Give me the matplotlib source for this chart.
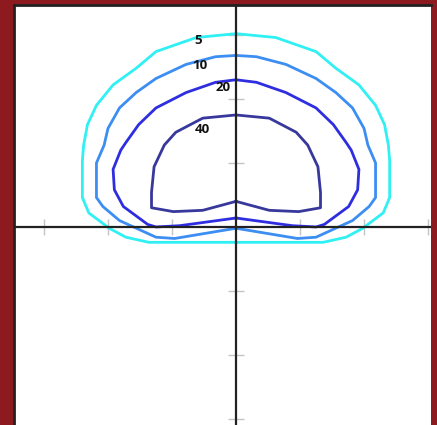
import matplotlib
matplotlib.use("Agg")
import matplotlib.pyplot as plt

# isocandela contours, right half (x, y in degrees), mirrored to the left
levels = [5, 10, 20, 40]
colors = ["#30f0f4", "#3c8ef2", "#2e2ee0", "#38389c"]

c5_x = [0, 3.1, 6.25, 7.8, 9.6, 10.9, 11.6, 11.9, 12.0, 12.0, 11.5, 9.9, 8.6, 6.8, 0]
c5_y = [15.1, 14.8, 13.7, 12.4, 11.1, 9.5, 8.0, 6.4, 5.2, 2.3, 1.1, -0.1, -0.8, -1.2, -1.2]

c10_x = [0, 1.6, 3.9, 6.25, 7.8, 9.1, 10.0, 10.3, 10.9, 10.9, 10.4, 9.1, 8.0, 6.25, 4.8, 0]
c10_y = [13.4, 13.3, 12.7, 11.6, 10.5, 9.3, 7.7, 6.4, 5.0, 2.3, 1.6, 0.5, 0.0, -0.8, -0.9, -0.1]

c20_x = [0, 1.6, 3.9, 6.25, 7.6, 8.6, 9.0, 9.6, 9.5, 8.8, 6.9, 6.25, 4.4, 0]
c20_y = [11.5, 11.3, 10.5, 9.3, 8.0, 6.6, 6.0, 4.5, 2.9, 1.6, 0.2, 0.0, 0.1, 0.7]

c40_x = [0, 2.6, 4.7, 5.6, 6.4, 6.6, 6.6, 4.9, 2.6, 0]
c40_y = [8.75, 8.5, 7.4, 6.4, 4.7, 2.7, 1.5, 1.2, 1.3, 2.0]

label_x = [-2.97, -2.8, -1.0, -2.6]
label_y = [14.6, 12.6, 10.9, 7.6]

ticks = [-15, -10, -5, 5, 10, 15]

fig = plt.figure(figsize=(4.37, 4.25), dpi=100)
fig.patch.set_facecolor("#8c1a1e")
ax = fig.add_axes([14 / 437, 0, 417 / 437, 420 / 425])
ax.set_facecolor("white")
ax.set_xlim(-17.34, 15.23)
ax.set_ylim(-15.47, 17.34)

for xs, ys, col in zip([c5_x, c10_x, c20_x, c40_x], [c5_y, c10_y, c20_y, c40_y], colors):
    full_x = [-v for v in xs[::-1]] + xs[1:]
    full_y = ys[::-1] + ys[1:]
    ax.plot(full_x, full_y, color=col, lw=2.0, zorder=2, solid_joinstyle="round")

# tick marks on the crossing axes
ax.plot(ticks, [0] * len(ticks), ls="none", marker="|", ms=11, mew=1.0, color="#c4c4c4", zorder=1)
ax.plot([0] * len(ticks), ticks, ls="none", marker="_", ms=11, mew=1.0, color="#c4c4c4", zorder=1)

ax.axhline(0, color="#222222", lw=1.6, zorder=3)
ax.axvline(0, color="#222222", lw=1.6, zorder=3)

for lx, ly, lv in zip(label_x, label_y, levels):
    ax.text(lx, ly, str(lv), ha="center", va="center", fontsize=9.5,
            family="Open Sans", fontweight="bold", color="#111111", zorder=4)

ax.set_xticks([])
ax.set_yticks([])
ax.spines["right"].set_visible(False)
ax.spines["bottom"].set_visible(False)
ax.spines["left"].set_color("#222222")
ax.spines["top"].set_color("#222222")
ax.spines["left"].set_linewidth(2)
ax.spines["top"].set_linewidth(2)

fig.savefig("out.png", dpi=100, facecolor=fig.get_facecolor())
